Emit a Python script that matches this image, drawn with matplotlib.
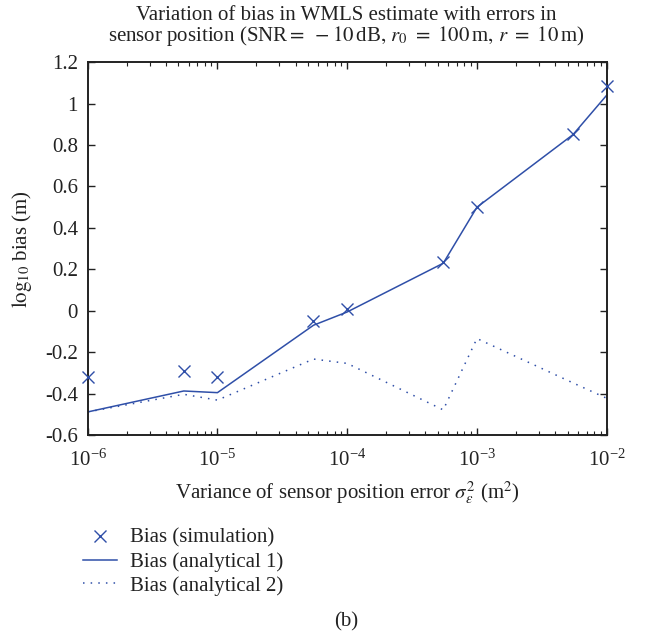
import matplotlib
matplotlib.use('Agg')
import matplotlib.pyplot as plt
from matplotlib.ticker import LogLocator, NullFormatter, MultipleLocator, FuncFormatter

plt.rcParams['font.family'] = 'Liberation Serif'
plt.rcParams['mathtext.fontset'] = 'stix'

# sensor position error variance (m^2)
variance = [1e-6, 5.5e-6, 1e-5, 5.5e-5, 1e-4, 5.5e-4, 1e-3, 5.5e-3, 1e-2]
# log10 of bias
bias_sim = [-0.32, -0.29, -0.32, -0.05, 0.01, 0.235, 0.50, 0.853, 1.084]
bias_an1 = [-0.487, -0.386, -0.394, -0.069, -0.005, 0.23, 0.50, 0.85, 1.04]
bias_an2 = [-0.487, -0.402, -0.43, -0.232, -0.253, -0.477, -0.133, -0.347, -0.421]

blue = '#2f4fa8'
ink = '#222222'
fs = 15

fig = plt.figure(figsize=(6.49, 6.33), dpi=100)
ax = fig.add_axes([0.1351, 0.3122, 0.7997, 0.5898])

ax.plot(variance, bias_sim, linestyle='none', marker='x', color=blue,
        markersize=9, markeredgewidth=1.0, clip_on=False, zorder=5,
        label='Bias (simulation)')
ax.plot(variance, bias_an1, '-', color=blue, lw=1.1, label='Bias (analytical 1)')
ax.plot(variance, bias_an2, color=blue, lw=1.1, linestyle=(0, (1, 4)),
        label='Bias (analytical 2)')

ax.set_xscale('log')
ax.set_xlim(1e-6, 1e-2)
ax.set_ylim(-0.6, 1.2)
ax.yaxis.set_major_locator(MultipleLocator(0.2))
ax.xaxis.set_major_locator(LogLocator(base=10, numticks=10))
ax.xaxis.set_minor_locator(LogLocator(base=10, subs=range(2, 10), numticks=50))
ax.xaxis.set_minor_formatter(NullFormatter())
ax.yaxis.set_major_formatter(FuncFormatter(
    lambda v, p: '0' if abs(v) < 1e-9 else '%g' % v))

ax.tick_params(which='both', direction='in', top=True, right=True,
               labelsize=fs, colors=ink)
ax.tick_params(which='major', length=5, width=1.0, pad=7)
ax.tick_params(axis='x', which='major', pad=10)
ax.tick_params(which='minor', length=3, width=0.8)
for s in ax.spines.values():
    s.set_linewidth(1.4)
    s.set_color(ink)

ax.set_xlabel(r'Variance of sensor position error $\sigma_\varepsilon^2$ (m$^2$)',
              fontsize=fs, color=ink, labelpad=6)
ax.set_ylabel(r'$\mathrm{log}_{10}$ bias (m)', fontsize=fs, color=ink,
              labelpad=8)

fig.text(0.533, 1 - 15 / 633,
         'Variation of bias in WMLS estimate with errors in',
         ha='center', va='center', fontsize=fs, color=ink)
fig.text(0.533, 1 - 36 / 633,
         r'sensor position (SNR$=\ -10\,$dB$,\, r_0\ =\ 100\,$m$,\, r\ =\ 10\,$m)',
         ha='center', va='center', fontsize=fs, color=ink)

leg = fig.legend(loc='upper left', bbox_to_anchor=(0.115, 1 - 520 / 633),
                 frameon=False, fontsize=fs, handlelength=1.65,
                 handletextpad=0.6, labelspacing=0.2, borderaxespad=0)
for t in leg.get_texts():
    t.set_color(ink)

fig.text(0.533, 1 - 622 / 633, '(b)', ha='center', va='center',
         fontsize=fs, color=ink)

fig.savefig('out.png', dpi=100)
